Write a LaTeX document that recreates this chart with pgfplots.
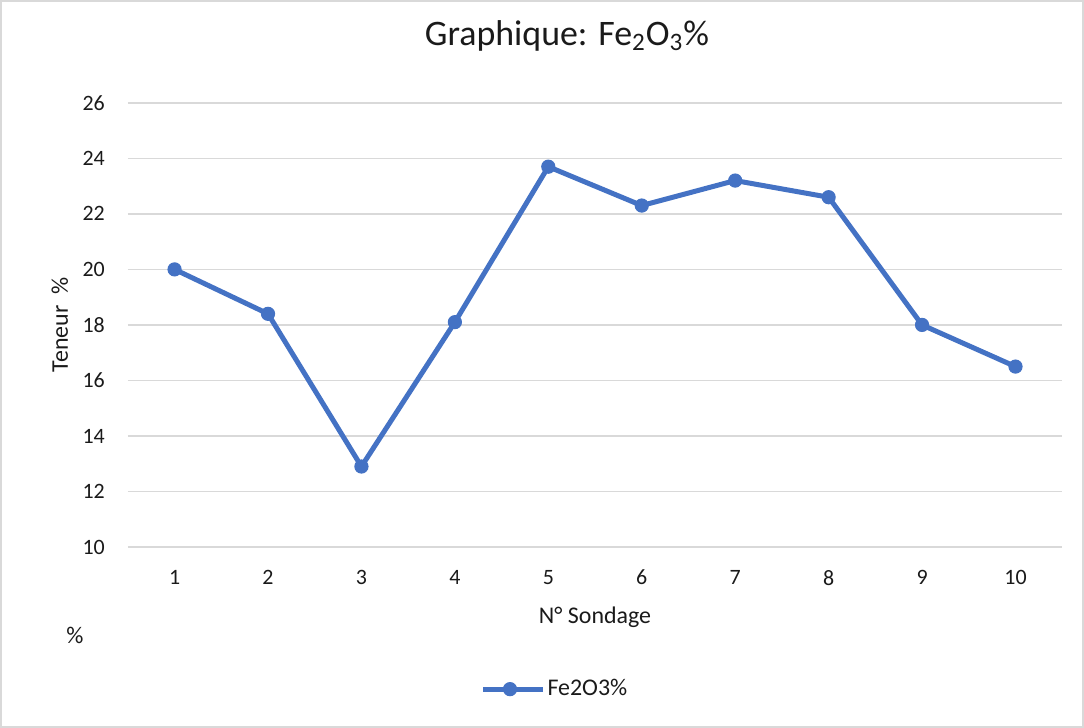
\documentclass[border=0pt]{standalone}
\usepackage{fontspec}
\setmainfont{Carlito}
\usepackage{pgfplots}
\pgfplotsset{compat=1.18}
\definecolor{xlblue}{HTML}{4472C4}
\definecolor{xlgrid}{HTML}{D9D9D9}
\definecolor{xltext}{HTML}{1A1A1A}
\begin{document}
\begin{tikzpicture}[x=1bp,y=1bp]
\draw[color=xlgrid, line width=0.8bp] (0.5,0.5) rectangle (541.5,363.5);
\begin{axis}[
  at={(64bp,90.5bp)}, anchor=south west, scale only axis,
  width=467bp, height=222bp, clip=false,
  xmin=0.5, xmax=10.5, ymin=10, ymax=26,
  xtick={1,...,10}, ytick={10,12,...,26},
  ymajorgrids, grid style={xlgrid, line width=0.75bp},
  axis line style={draw=none}, major tick length=0pt,
  tick label style={font=\fontsize{11}{13}\selectfont, text=xltext},
  /pgf/number format/assume math mode=true,
  yticklabel style={xshift=-8bp},
  xticklabel style={yshift=-8bp},
  title={Graphique: Fe\textsubscript{2}O\textsubscript{3}\%},
  title style={at={(axis description cs:0.470,1.124)}, anchor=center, font=\fontsize{18}{21}\selectfont, text=xltext},
  xlabel={N° Sondage},
  xlabel style={at={(axis description cs:0.5,-0.158)}, anchor=center, font=\fontsize{12}{14}\selectfont, text=xltext},
  ylabel={Teneur~~\%},
  ylabel style={at={(axis description cs:-0.0728,0.5)}, anchor=center, rotate=0, font=\fontsize{12}{14}\selectfont, text=xltext},
  legend style={at={(axis description cs:0.377,-0.32)}, anchor=west, draw=none, fill=none, inner sep=0pt, font=\fontsize{12}{14}\selectfont, text=xltext,
    nodes={inner xsep=1bp}},
  legend cell align=left,
  legend image code/.code={
    \draw[#1, mark=none] (0bp,0bp) -- (30bp,0bp);
    \draw[#1, only marks] plot coordinates {(13.5bp,0bp)};
  },
]
\addplot[color=xlblue, line width=2.5bp, mark=*, mark size=3.3bp,
  mark options={fill=xlblue, draw=xlblue, line width=0.5bp}]
  coordinates {(1,20.0) (2,18.4) (3,12.9) (4,18.1) (5,23.7) (6,22.3) (7,23.2) (8,22.6) (9,18.0) (10,16.5)};
\addlegendentry{Fe2O3\%}
\node[font=\fontsize{12}{14}\selectfont, text=xltext] at (axis description cs:-0.0567,-0.2) {\%};
\end{axis}
\end{tikzpicture}
\end{document}
